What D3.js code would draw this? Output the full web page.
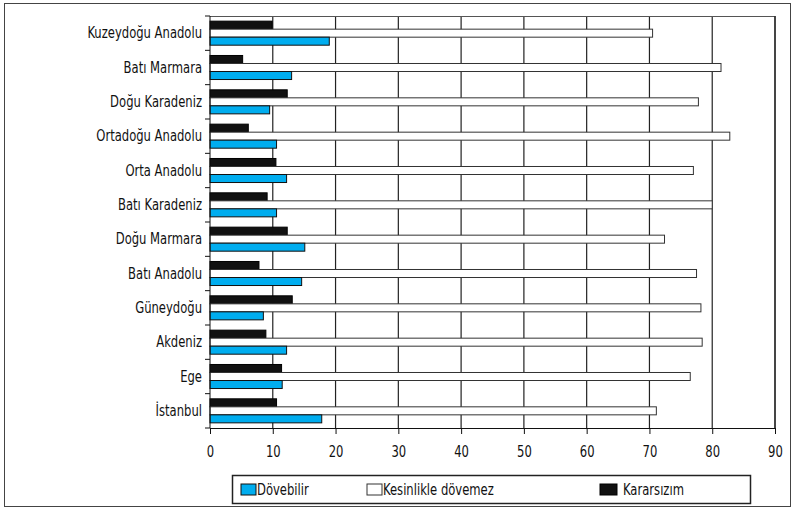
<!DOCTYPE html>
<html>
<head>
<meta charset="utf-8">
<script src="https://cdn.jsdelivr.net/npm/d3@7"></script>
<style>
    body { margin: 0; background: #fff; }
    text { font-family: "Liberation Sans Narrow", "DejaVu Sans Condensed", "Roboto", sans-serif; fill: #111; }
</style>
</head>
<body>
<div id="chart"></div>
<script>
// Regions, top to bottom as in the picture
const regions = ['Kuzeydoğu Anadolu', 'Batı Marmara', 'Doğu Karadeniz', 'Ortadoğu Anadolu', 'Orta Anadolu',
    'Batı Karadeniz', 'Doğu Marmara', 'Batı Anadolu', 'Güneydoğu', 'Akdeniz', 'Ege', 'İstanbul']

const dovebilir = [19.0, 13.0, 9.5, 10.6, 12.2, 10.6, 15.1, 14.6, 8.5, 12.2, 11.5, 17.8]
const kesinlikle = [70.5, 81.4, 77.8, 82.8, 77.0, 80.0, 72.4, 77.5, 78.2, 78.4, 76.5, 71.1]
const kararsizim = [9.9, 5.2, 12.3, 6.1, 10.5, 9.1, 12.3, 7.8, 13.1, 8.9, 11.4, 10.6]

const xTicks = [0, 10, 20, 30, 40, 50, 60, 70, 80, 90]

// series listed in drawing order inside a group (top -> bottom)
const series = [
    {name: 'Kararsızım', values: kararsizim, fill: '#111111', stroke: '#000'},
    {name: 'Kesinlikle dövemez', values: kesinlikle, fill: '#ffffff', stroke: '#333'},
    {name: 'Dövebilir', values: dovebilir, fill: '#00adef', stroke: '#111'}
]

const width = 797, height = 509
const margin = {top: 16, right: 22, bottom: 81, left: 210}
const squeeze = 0.86   // the original uses a condensed face

const svg = d3.select('#chart').append('svg')
    .attr('width', width)
    .attr('height', height)

// outer frame
svg.append('rect')
    .attr('x', 4.5).attr('y', 3.5)
    .attr('width', 786).attr('height', 503)
    .attr('fill', 'none')
    .attr('stroke', '#444')
    .attr('stroke-width', 1)

const innerW = width - margin.left - margin.right
const innerH = height - margin.top - margin.bottom

const g = svg.append('g')
    .attr('transform', `translate(${margin.left}, ${margin.top})`)

const x = d3.scaleLinear().domain([0, 90]).range([0, innerW])
const y = d3.scaleBand().domain(regions).range([0, innerH]).paddingInner(0.3).paddingOuter(0.15)
const ySub = d3.scaleBand().domain(series.map(s => s.name)).range([0, y.bandwidth()])

// vertical grid lines
g.selectAll('.grid')
    .data(xTicks.slice(1))
    .join('line')
    .attr('class', 'grid')
    .attr('x1', d => x(d)).attr('x2', d => x(d))
    .attr('y1', 0).attr('y2', innerH)
    .attr('stroke', '#222')
    .attr('stroke-width', 1.2)

// top border of plot
g.append('line')
    .attr('x1', 0).attr('x2', innerW)
    .attr('y1', 0.5).attr('y2', 0.5)
    .attr('stroke', '#555')

// bars
series.forEach(s => {
    g.selectAll(null)
        .data(regions)
        .join('rect')
        .attr('x', 0)
        .attr('y', d => y(d) + ySub(s.name))
        .attr('width', (d, i) => x(s.values[i]))
        .attr('height', ySub.bandwidth())
        .attr('fill', s.fill)
        .attr('stroke', s.stroke)
        .attr('stroke-width', 1)
})

// y axis
const yBounds = d3.range(regions.length + 1).map(i => i * innerH / regions.length)
g.append('line')
    .attr('x1', 0).attr('x2', 0)
    .attr('y1', 0).attr('y2', innerH)
    .attr('stroke', '#111')
g.selectAll('.ytick')
    .data(yBounds)
    .join('line')
    .attr('class', 'ytick')
    .attr('x1', -5).attr('x2', 0)
    .attr('y1', d => d).attr('y2', d => d)
    .attr('stroke', '#111')
g.selectAll('.ylabel')
    .data(regions)
    .join('text')
    .attr('class', 'ylabel')
    .attr('transform', d => `translate(-8, ${y(d) + y.bandwidth() / 2 + 1}) scale(${squeeze}, 1)`)
    .attr('text-anchor', 'end')
    .attr('dominant-baseline', 'middle')
    .style('font-size', '15px')
    .text(d => d)

// x axis
const xAxis = g.append('g')
    .attr('transform', `translate(0, ${innerH})`)
    .call(d3.axisBottom(x).tickValues(xTicks).tickSize(6).tickPadding(12).tickSizeOuter(0))
xAxis.select('.domain').attr('stroke', '#111').attr('stroke-width', 1.2)
xAxis.selectAll('.tick line').attr('stroke', '#111')
xAxis.selectAll('.tick text')
    .attr('transform', `scale(${squeeze}, 1)`)
    .style('font-size', '15px')
    .style('font-family', '"Liberation Sans Narrow", "DejaVu Sans Condensed", sans-serif')
    .attr('fill', '#111')

// right border of plot
g.append('line')
    .attr('x1', innerW).attr('x2', innerW)
    .attr('y1', 0).attr('y2', innerH)
    .attr('stroke', '#222')
    .attr('stroke-width', 1.2)

// legend
const legend = svg.append('g')
legend.append('rect')
    .attr('x', 232.5).attr('y', 475.5)
    .attr('width', 518).attr('height', 28)
    .attr('fill', '#fff')
    .attr('stroke', '#222')
    .attr('stroke-width', 1.5)

const legendItems = [
    {s: series[2], x: 241},
    {s: series[1], x: 367},
    {s: series[0], x: 600}
]
legendItems.forEach(item => {
    const dark = item.s.name === 'Kararsızım'
    legend.append('rect')
        .attr('x', item.x).attr('y', 484)
        .attr('width', dark ? 17 : 15).attr('height', 11)
        .attr('fill', item.s.fill)
        .attr('stroke', item.s.stroke)
    legend.append('text')
        .attr('transform', `translate(${item.x + (dark ? 23 : 16)}, 495) scale(${squeeze}, 1)`)
        .style('font-size', '15px')
        .text(item.s.name)
})
</script>
</body>
</html>
